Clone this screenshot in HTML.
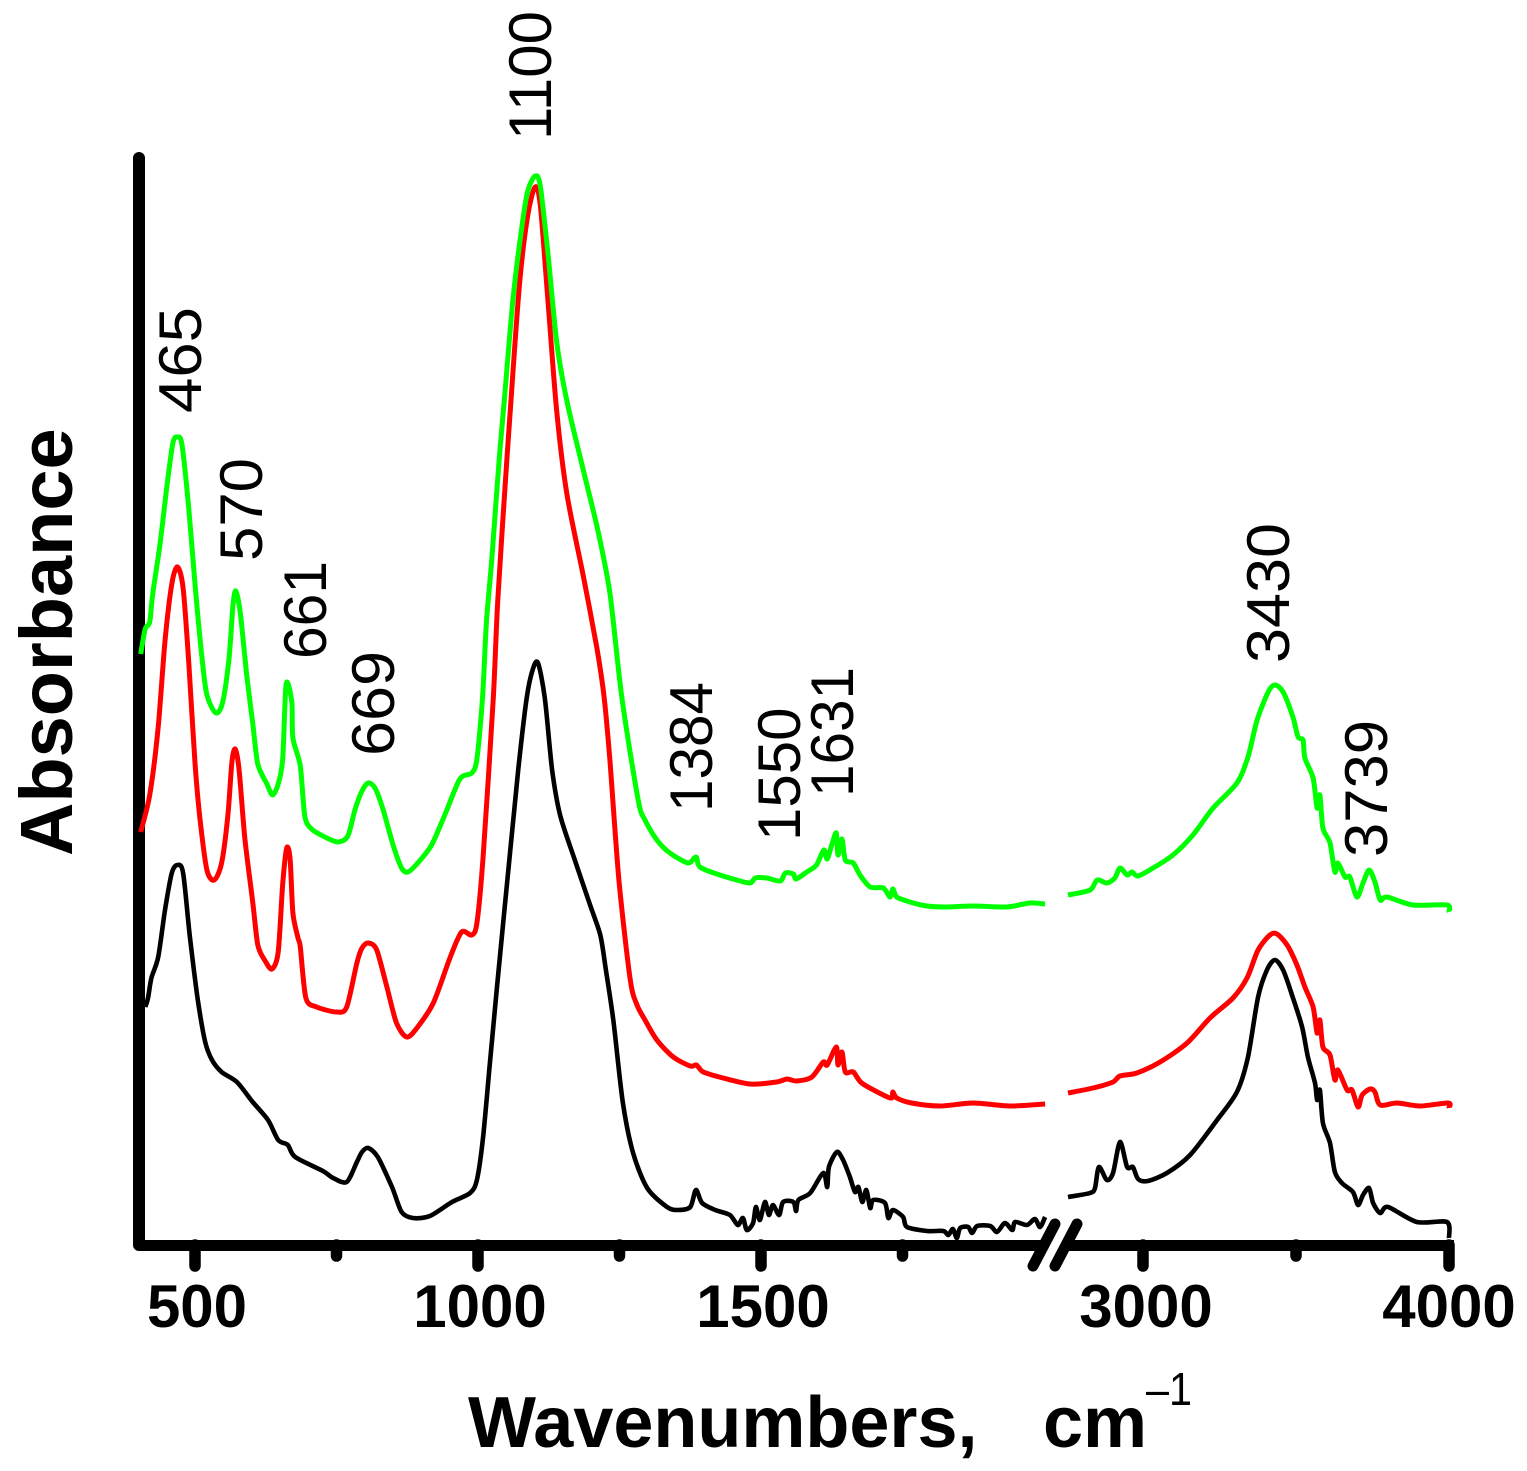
<!DOCTYPE html>
<html lang="en">
<head>
<meta charset="utf-8">
<title>Absorbance spectra</title>
<style>
html,body{margin:0;padding:0;background:#fff;}
svg{display:block;}
text{font-family:"Liberation Sans",sans-serif;fill:#000;}
.peak{font-size:60px;}
.tick{font-size:60px;font-weight:bold;text-anchor:middle;}
</style>
</head>
<body>
<svg id="chart" xmlns="http://www.w3.org/2000/svg" width="1527" height="1471" viewBox="0 0 1527 1471">
  <rect x="0" y="0" width="1527" height="1471" fill="#fff"/>
  <g id="axes" stroke="#000" fill="none" stroke-linecap="round">
    <line x1="139" y1="158" x2="139" y2="1245" stroke-width="12"/>
    <line x1="139" y1="1245.5" x2="1046" y2="1245.5" stroke-width="11" stroke-linecap="butt"/>
    <line x1="1068" y1="1245.5" x2="1454" y2="1245.5" stroke-width="11" stroke-linecap="butt"/>
    <line x1="1055" y1="1224" x2="1033" y2="1266" stroke-width="11"/>
    <line x1="1077" y1="1224" x2="1055" y2="1266" stroke-width="11"/>
  </g>
  <g id="ticks"></g>
  <g id="series"></g>
  <g id="tick-labels"></g>

  <g>
    <text class="peak" transform="translate(201 413) rotate(-90)" textLength="106" lengthAdjust="spacingAndGlyphs">465</text>
    <text class="peak" transform="translate(262 561) rotate(-90)" textLength="103" lengthAdjust="spacingAndGlyphs">570</text>
    <text class="peak" transform="translate(326 659) rotate(-90)" textLength="98" lengthAdjust="spacingAndGlyphs">661</text>
    <text class="peak" transform="translate(394 756) rotate(-90)" textLength="105" lengthAdjust="spacingAndGlyphs">669</text>
    <text class="peak" transform="translate(551 140) rotate(-90)">1100</text>
    <text class="peak" transform="translate(712 812) rotate(-90)" textLength="130" lengthAdjust="spacingAndGlyphs">1384</text>
    <text class="peak" transform="translate(800 841) rotate(-90)">1550</text>
    <text class="peak" transform="translate(853 797) rotate(-90)" textLength="130" lengthAdjust="spacingAndGlyphs">1631</text>
    <text class="peak" transform="translate(1289 663) rotate(-90)" textLength="140" lengthAdjust="spacingAndGlyphs">3430</text>
    <text class="peak" transform="translate(1387 857) rotate(-90)" textLength="137" lengthAdjust="spacingAndGlyphs">3739</text>
  </g>

  <text transform="translate(72 856) rotate(-90)" font-size="74" font-weight="bold">Absorbance</text>
  <text x="468" y="1447" font-size="72" font-weight="bold">Wavenumbers,</text>
  <text x="1043" y="1447" font-size="72" font-weight="bold">cm</text>
  <text x="1146" y="1405" font-size="46" textLength="46" lengthAdjust="spacingAndGlyphs">–1</text>
</svg>

<script>
const majorTicks = [500, 1000, 1500, 3000, 4000];
const minorTicks = [750, 1250, 1750, 3500];
const tickLabels = [500, 1000, 1500, 3000, 4000];

const greenWn = [404,412,420,425,438,450,461,469,477,489,500,512,521,537,549,560,567,572,580,591,602,611,627,637,647,655,661,671,673,686,694,706,733,753,770,783,795,806,818,832,850,865,876,892,918,942,968,989,998,1008,1015,1024,1037,1048,1062,1077,1088,1101,1110,1124,1139,1157,1186,1212,1233,1254,1283,1295,1316,1339,1371,1385,1392,1422,1457,1481,1490,1510,1534,1543,1557,1562,1581,1598,1611,1617,1625,1633,1636,1643,1649,1663,1675,1693,1716,1728,1733,1740,1763,1793,1828,1875,1934,1975,2002,
  2755,2827,2850,2882,2908,2925,2948,2964,2984,3033,3098,3163,3229,3307,3343,3373,3409,3431,3458,3490,3507,3523,3529,3556,3569,3578,3588,3611,3627,3637,3660,3676,3699,3719,3739,3758,3775,3797,3882,3993,4000];
const greenAbs = [.591,.616,.623,.650,.700,.757,.802,.808,.800,.736,.661,.589,.550,.532,.543,.586,.639,.654,.632,.572,.522,.481,.461,.450,.461,.486,.561,.543,.507,.479,.429,.416,.407,.403,.409,.436,.454,.462,.457,.436,.400,.377,.373,.381,.400,.431,.466,.472,.486,.547,.624,.683,.782,.855,.947,1.016,1.054,1.069,1.059,.989,.903,.844,.775,.714,.652,.548,.445,.425,.405,.392,.382,.388,.378,.371,.365,.362,.367,.367,.364,.372,.371,.366,.373,.380,.395,.386,.400,.412,.390,.406,.385,.382,.370,.358,.357,.348,.356,.348,.343,.339,.338,.339,.338,.342,.341,
  .350,.355,.365,.362,.367,.377,.370,.373,.369,.377,.390,.410,.437,.462,.488,.525,.553,.560,.553,.528,.508,.505,.487,.467,.437,.450,.417,.402,.373,.382,.368,.368,.348,.362,.375,.363,.345,.348,.340,.340,.333];

const redWn = [404,420,435,447,459,469,479,489,500,509,521,534,547,558,565,571,578,588,602,611,624,636,647,655,662,668,673,682,686,696,715,750,768,786,795,806,821,839,856,874,892,921,951,971,989,998,1009,1027,1035,1051,1062,1074,1088,1101,1110,1124,1139,1157,1186,1210,1223,1233,1249,1269,1281,1295,1316,1345,1375,1386,1398,1433,1481,1528,1546,1563,1590,1610,1617,1633,1636,1643,1649,1663,1678,1716,1731,1733,1740,1766,1816,1875,1940,2002,
  2755,2837,2902,2925,2980,3056,3144,3219,3294,3340,3376,3415,3438,3471,3503,3529,3556,3569,3578,3588,3611,3627,3637,3667,3683,3703,3716,3742,3758,3775,3830,3905,3997,4000];
const redAbs = [.413,.450,.518,.604,.661,.678,.657,.582,.482,.425,.375,.365,.382,.429,.482,.496,.475,.407,.343,.300,.284,.276,.293,.361,.397,.386,.332,.307,.298,.247,.238,.233,.238,.282,.297,.302,.295,.258,.222,.208,.217,.242,.288,.313,.310,.322,.388,.547,.645,.786,.875,.965,1.030,1.058,1.040,.941,.834,.751,.669,.597,.547,.485,.365,.265,.240,.225,.205,.188,.179,.180,.173,.167,.161,.163,.166,.164,.168,.183,.180,.198,.180,.193,.173,.173,.162,.150,.147,.153,.147,.142,.139,.142,.139,.141,
  .152,.157,.163,.169,.172,.183,.202,.227,.247,.267,.295,.310,.311,.300,.280,.258,.238,.212,.225,.198,.190,.165,.175,.155,.155,.138,.150,.156,.153,.140,.142,.139,.142,.137];

const blackWn = [412,417,423,435,447,459,469,479,491,505,518,530,547,574,602,629,647,664,677,726,744,768,786,795,806,823,848,865,885,915,954,986,998,1009,1021,1033,1057,1071,1086,1097,1106,1118,1131,1145,1171,1198,1216,1226,1239,1256,1274,1299,1334,1353,1375,1385,1396,1419,1445,1459,1468,1475,1486,1491,1498,1507,1514,1521,1532,1539,1557,1562,1566,1587,1610,1617,1620,1634,1645,1657,1666,1672,1679,1686,1693,1698,1719,1725,1733,1751,1758,1793,1822,1831,1839,1846,1852,1866,1873,1882,1905,1917,1931,1944,1949,1970,1984,1993,2002,
  2755,2827,2843,2856,2882,2902,2925,2948,2967,2984,3016,3078,3154,3242,3307,3343,3376,3405,3431,3458,3487,3520,3539,3562,3569,3578,3588,3611,3627,3650,3686,3703,3719,3739,3752,3775,3801,3895,3993,4000];
const blackAbs = [.238,.247,.267,.288,.335,.372,.380,.372,.308,.245,.203,.185,.173,.163,.143,.125,.105,.100,.088,.074,.067,.063,.083,.093,.097,.088,.058,.033,.027,.029,.043,.052,.065,.108,.182,.255,.395,.475,.547,.576,.582,.547,.475,.430,.385,.340,.310,.275,.225,.142,.092,.057,.038,.035,.038,.055,.042,.035,.030,.020,.027,.015,.022,.038,.025,.043,.030,.040,.030,.043,.043,.034,.045,.052,.072,.058,.078,.093,.085,.068,.053,.058,.043,.055,.037,.045,.042,.027,.035,.028,.018,.014,.014,.010,.016,.007,.017,.018,.012,.019,.019,.013,.022,.015,.023,.020,.026,.018,.028,
  .048,.052,.057,.078,.065,.072,.103,.078,.078,.066,.064,.072,.090,.125,.153,.188,.248,.275,.285,.275,.250,.218,.188,.162,.145,.155,.122,.102,.073,.062,.053,.040,.050,.057,.042,.032,.038,.023,.023,.007];

const breakWn = 2400;

function xScale(wn) {
  return wn < breakWn ? 195 + (wn - 500) * 0.566 : 1143 + (wn - 3000) * 0.306;
}
function yScale(a) {
  return 1245 - a * 1000;
}

function smoothSegment(pts) {
  const k = 0.14;
  let d = 'M' + pts[0][0].toFixed(1) + ' ' + pts[0][1].toFixed(1);
  for (let i = 0; i < pts.length - 1; i++) {
    const p0 = pts[Math.max(i - 1, 0)];
    const p1 = pts[i];
    const p2 = pts[i + 1];
    const p3 = pts[Math.min(i + 2, pts.length - 1)];
    const c1x = p1[0] + (p2[0] - p0[0]) * k;
    const c1y = p1[1] + (p2[1] - p0[1]) * k;
    const c2x = p2[0] - (p3[0] - p1[0]) * k;
    const c2y = p2[1] - (p3[1] - p1[1]) * k;
    d += 'C' + c1x.toFixed(1) + ' ' + c1y.toFixed(1) + ' ' + c2x.toFixed(1) + ' ' + c2y.toFixed(1) + ' ' + p2[0].toFixed(1) + ' ' + p2[1].toFixed(1);
  }
  return d;
}

function seriesPath(wns, values) {
  const low = [];
  const high = [];
  for (let i = 0; i < wns.length; i++) {
    const point = [xScale(wns[i]), yScale(values[i])];
    if (wns[i] < breakWn) {
      low.push(point);
    } else {
      high.push(point);
    }
  }
  return smoothSegment(low) + smoothSegment(high);
}

const NS = 'http://www.w3.org/2000/svg';
const seriesGroup = document.getElementById('series');

const blackLine = document.createElementNS(NS, 'path');


blackLine.setAttribute('d', seriesPath(blackWn, blackAbs));
blackLine.setAttribute('stroke', '#000000');
blackLine.setAttribute('stroke-width', '4.6');
seriesGroup.appendChild(blackLine);

const redLine = document.createElementNS(NS, 'path');


redLine.setAttribute('d', seriesPath(redWn, redAbs));
redLine.setAttribute('stroke', '#ff0000');
redLine.setAttribute('stroke-width', '5');
seriesGroup.appendChild(redLine);

const greenLine = document.createElementNS(NS, 'path');


greenLine.setAttribute('d', seriesPath(greenWn, greenAbs));
greenLine.setAttribute('stroke', '#00ff00');
greenLine.setAttribute('stroke-width', '5');
seriesGroup.appendChild(greenLine);

[blackLine, redLine, greenLine].forEach(function (line) {
  line.setAttribute('fill', 'none');
  line.setAttribute('stroke-linejoin', 'round');
  line.setAttribute('stroke-linecap', 'butt');
});

const tickGroup = document.getElementById('ticks');
majorTicks.forEach(function (v) {
  const t = document.createElementNS(NS, 'line');
  
  
  t.setAttribute('x1', xScale(v));
  t.setAttribute('x2', xScale(v));
  t.setAttribute('y1', 1245);
  t.setAttribute('y2', 1266);
  t.setAttribute('stroke', '#000');
  t.setAttribute('stroke-width', '11.5');
  t.setAttribute('stroke-linecap', 'round');
  tickGroup.appendChild(t);
});
minorTicks.forEach(function (v) {
  const t = document.createElementNS(NS, 'line');
  
  
  t.setAttribute('x1', xScale(v));
  t.setAttribute('x2', xScale(v));
  t.setAttribute('y1', 1245);
  t.setAttribute('y2', 1256);
  t.setAttribute('stroke', '#000');
  t.setAttribute('stroke-width', '11.5');
  t.setAttribute('stroke-linecap', 'round');
  tickGroup.appendChild(t);
});

const labelGroup = document.getElementById('tick-labels');
tickLabels.forEach(function (v) {
  const t = document.createElementNS(NS, 'text');
  
  
  t.setAttribute('class', 'tick');
  t.setAttribute('x', xScale(v) + (v === 3000 ? 3 : v < 2000 ? 2 : 0));
  t.setAttribute('y', 1327);
  t.textContent = String(v);
  labelGroup.appendChild(t);
});
</script>
</body>
</html>
